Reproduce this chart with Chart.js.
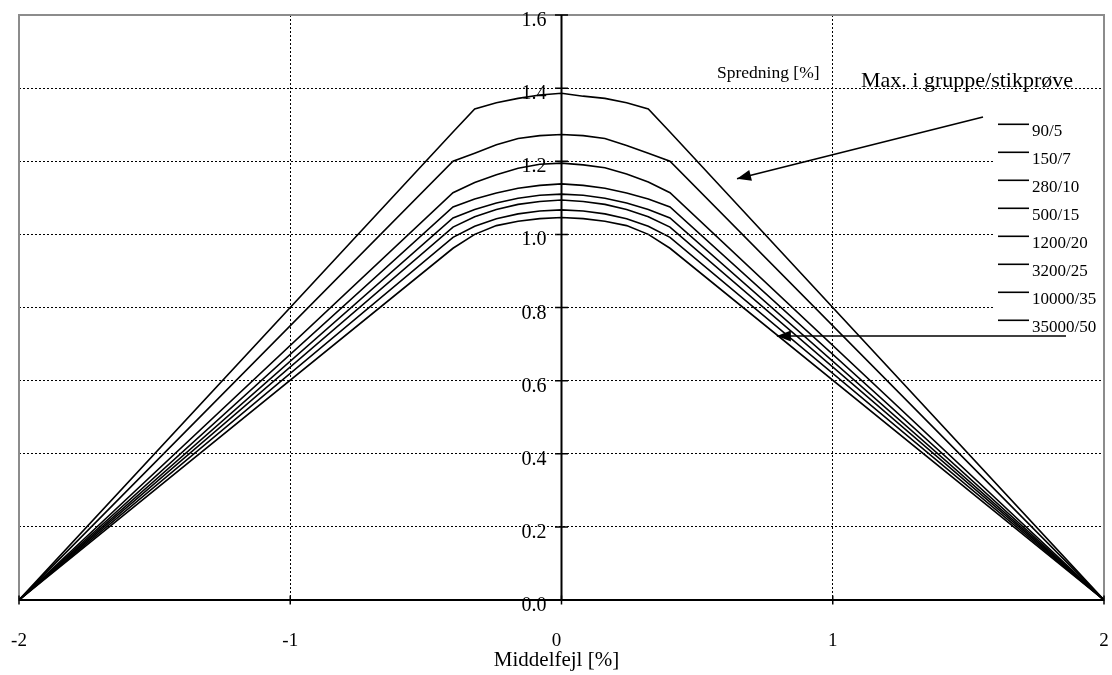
<!DOCTYPE html>
<html>
<head>
<meta charset="utf-8">
<script src="https://cdn.jsdelivr.net/npm/chart.js@4.4.1/dist/chart.umd.min.js"></script>
<style>
  html, body { margin: 0; padding: 0; background: #fff; }
  #wrap { width: 1112px; height: 675px; }
</style>
</head>
<body>
<div id="wrap"><canvas id="chart"></canvas></div>
<script>
// x values (Middelfejl [%]) shared by all series
const xValues = [-2, -0.4, -0.32, -0.24, -0.16, -0.08, 0, 0.08, 0.16, 0.24, 0.32, 0.4, 2]

// Spredning [%] per series
const s90_5     = [0, 1.280, 1.343, 1.360, 1.372, 1.381, 1.386, 1.378, 1.372, 1.360, 1.343, 1.280, 0]
const s150_7    = [0, 1.200, 1.222, 1.245, 1.262, 1.270, 1.273, 1.270, 1.262, 1.243, 1.222, 1.200, 0]
const s280_10   = [0, 1.114, 1.142, 1.163, 1.181, 1.192, 1.195, 1.190, 1.182, 1.165, 1.143, 1.114, 0]
const s500_15   = [0, 1.075, 1.097, 1.113, 1.126, 1.134, 1.138, 1.134, 1.126, 1.113, 1.097, 1.075, 0]
const s1200_20  = [0, 1.045, 1.068, 1.086, 1.099, 1.107, 1.110, 1.107, 1.099, 1.086, 1.068, 1.045, 0]
const s3200_25  = [0, 1.020, 1.048, 1.068, 1.082, 1.090, 1.094, 1.090, 1.082, 1.068, 1.048, 1.020, 0]
const s10000_35 = [0, 0.992, 1.022, 1.043, 1.056, 1.064, 1.067, 1.064, 1.056, 1.043, 1.022, 0.992, 0]
const s35000_50 = [0, 0.962, 1.000, 1.024, 1.036, 1.043, 1.046, 1.043, 1.036, 1.024, 1.000, 0.962, 0]

const seriesLabels = ["90/5", "150/7", "280/10", "500/15", "1200/20", "3200/25", "10000/35", "35000/50"]
const seriesValues = [s90_5, s150_7, s280_10, s500_15, s1200_20, s3200_25, s10000_35, s35000_50]

const xTicks = [-2, -1, 0, 1, 2]
const yTicks = [0, 0.2, 0.4, 0.6, 0.8, 1.0, 1.2, 1.4, 1.6]

// arrows, in data coordinates: [fromX, fromY, toX, toY]
const arrows = [
  [1.554, 1.321, 0.647, 1.152],
  [1.860, 0.722, 0.794, 0.722]
]

const SERIF = "'Liberation Serif', 'Times New Roman', serif"

const datasets = seriesValues.map((vals, i) => ({
  label: seriesLabels[i],
  data: vals.map((v, j) => ({ x: xValues[j], y: v })),
  showLine: true,
  borderColor: "#000",
  borderWidth: 1.6,
  pointRadius: 0,
  tension: 0
}))

// draws the frame, the centred y axis, tick labels, legend and arrows
const decorations = {
  id: "decorations",
  beforeDatasetsDraw(chart) {
    const { ctx, chartArea: a } = chart
    ctx.save()
    ctx.strokeStyle = "#8c8c8c"
    ctx.lineWidth = 2
    ctx.strokeRect(a.left, a.top, a.right - a.left, a.bottom - a.top)
    ctx.restore()
  },
  afterDatasetsDraw(chart) {
    const { ctx, chartArea: a, scales } = chart
    const xs = scales.x, ys = scales.y
    const x0 = xs.getPixelForValue(0)
    ctx.save()

    // axes
    ctx.strokeStyle = "#000"
    ctx.lineWidth = 2
    ctx.beginPath()
    ctx.moveTo(x0, a.top); ctx.lineTo(x0, a.bottom)
    ctx.moveTo(a.left, a.bottom); ctx.lineTo(a.right, a.bottom)
    ctx.stroke()

    ctx.lineWidth = 1.5
    ctx.beginPath()
    yTicks.forEach(t => {
      const y = ys.getPixelForValue(t)
      ctx.moveTo(x0 - 6.5, y); ctx.lineTo(x0 + 6.5, y)
    })
    xTicks.forEach(t => {
      const x = xs.getPixelForValue(t)
      ctx.moveTo(x, a.bottom - 4.5); ctx.lineTo(x, a.bottom + 4.5)
    })
    ctx.stroke()

    // y tick labels, left of the centred axis
    ctx.fillStyle = "#000"
    ctx.font = "20px " + SERIF
    ctx.textAlign = "right"
    ctx.textBaseline = "alphabetic"
    yTicks.forEach(t => {
      ctx.fillText(t.toFixed(1), x0 - 15, ys.getPixelForValue(t) + 11)
    })

    // x tick labels
    ctx.font = "19px " + SERIF
    ctx.textAlign = "center"
    xTicks.forEach(t => {
      ctx.fillText(String(t), xs.getPixelForValue(t) - (t === 0 ? 5 : 0), a.bottom + 46)
    })
    ctx.font = "21px " + SERIF
    ctx.fillText("Middelfejl [%]", x0 - 5, a.bottom + 66)

    // legend
    ctx.fillStyle = "#fff"
    ctx.fillRect(994, 105, 108, 240)
    ctx.fillStyle = "#000"
    ctx.font = "17.5px " + SERIF
    ctx.textAlign = "left"
    ctx.fillText("Spredning [%]", 717, 78)
    ctx.font = "22px " + SERIF
    ctx.fillText("Max. i gruppe/stikprøve", 861, 87)
    ctx.font = "17px " + SERIF
    ctx.lineWidth = 1.6
    seriesLabels.forEach((lab, i) => {
      const y = 124.3 + i * 28
      ctx.beginPath()
      ctx.moveTo(998, y); ctx.lineTo(1029, y)
      ctx.stroke()
      ctx.fillText(lab, 1032, y + 12)
    })

    // arrows
    arrows.forEach(([fx, fy, tx, ty]) => {
      const x1 = xs.getPixelForValue(fx), y1 = ys.getPixelForValue(fy)
      const x2 = xs.getPixelForValue(tx), y2 = ys.getPixelForValue(ty)
      const ang = Math.atan2(y2 - y1, x2 - x1)
      ctx.lineWidth = 1.6
      ctx.beginPath()
      ctx.moveTo(x1, y1); ctx.lineTo(x2, y2)
      ctx.stroke()
      const len = 14, half = 5.5
      ctx.beginPath()
      ctx.moveTo(x2, y2)
      ctx.lineTo(x2 - len * Math.cos(ang) + half * Math.sin(ang), y2 - len * Math.sin(ang) - half * Math.cos(ang))
      ctx.lineTo(x2 - len * Math.cos(ang) - half * Math.sin(ang), y2 - len * Math.sin(ang) + half * Math.cos(ang))
      ctx.closePath()
      ctx.fill()
    })

    ctx.restore()
  }
}

new Chart(document.getElementById("chart"), {
  type: "scatter",
  data: { datasets },
  options: {
    responsive: true,
    maintainAspectRatio: false,
    animation: false,
    layout: { padding: { left: 19, right: 8, top: 15, bottom: 75 } },
    plugins: {
      legend: { display: false },
      tooltip: { enabled: false }
    },
    scales: {
      x: {
        type: "linear",
        min: -2,
        max: 2,
        ticks: { display: false, stepSize: 1 },
        grid: { color: "#000", lineWidth: 1, drawTicks: false },
        border: { display: false, dash: [2, 2] }
      },
      y: {
        type: "linear",
        min: 0,
        max: 1.6,
        ticks: { display: false, stepSize: 0.2 },
        grid: { color: "#000", lineWidth: 1, drawTicks: false },
        border: { display: false, dash: [2, 2] }
      }
    }
  },
  plugins: [decorations]
})
</script>
</body>
</html>
